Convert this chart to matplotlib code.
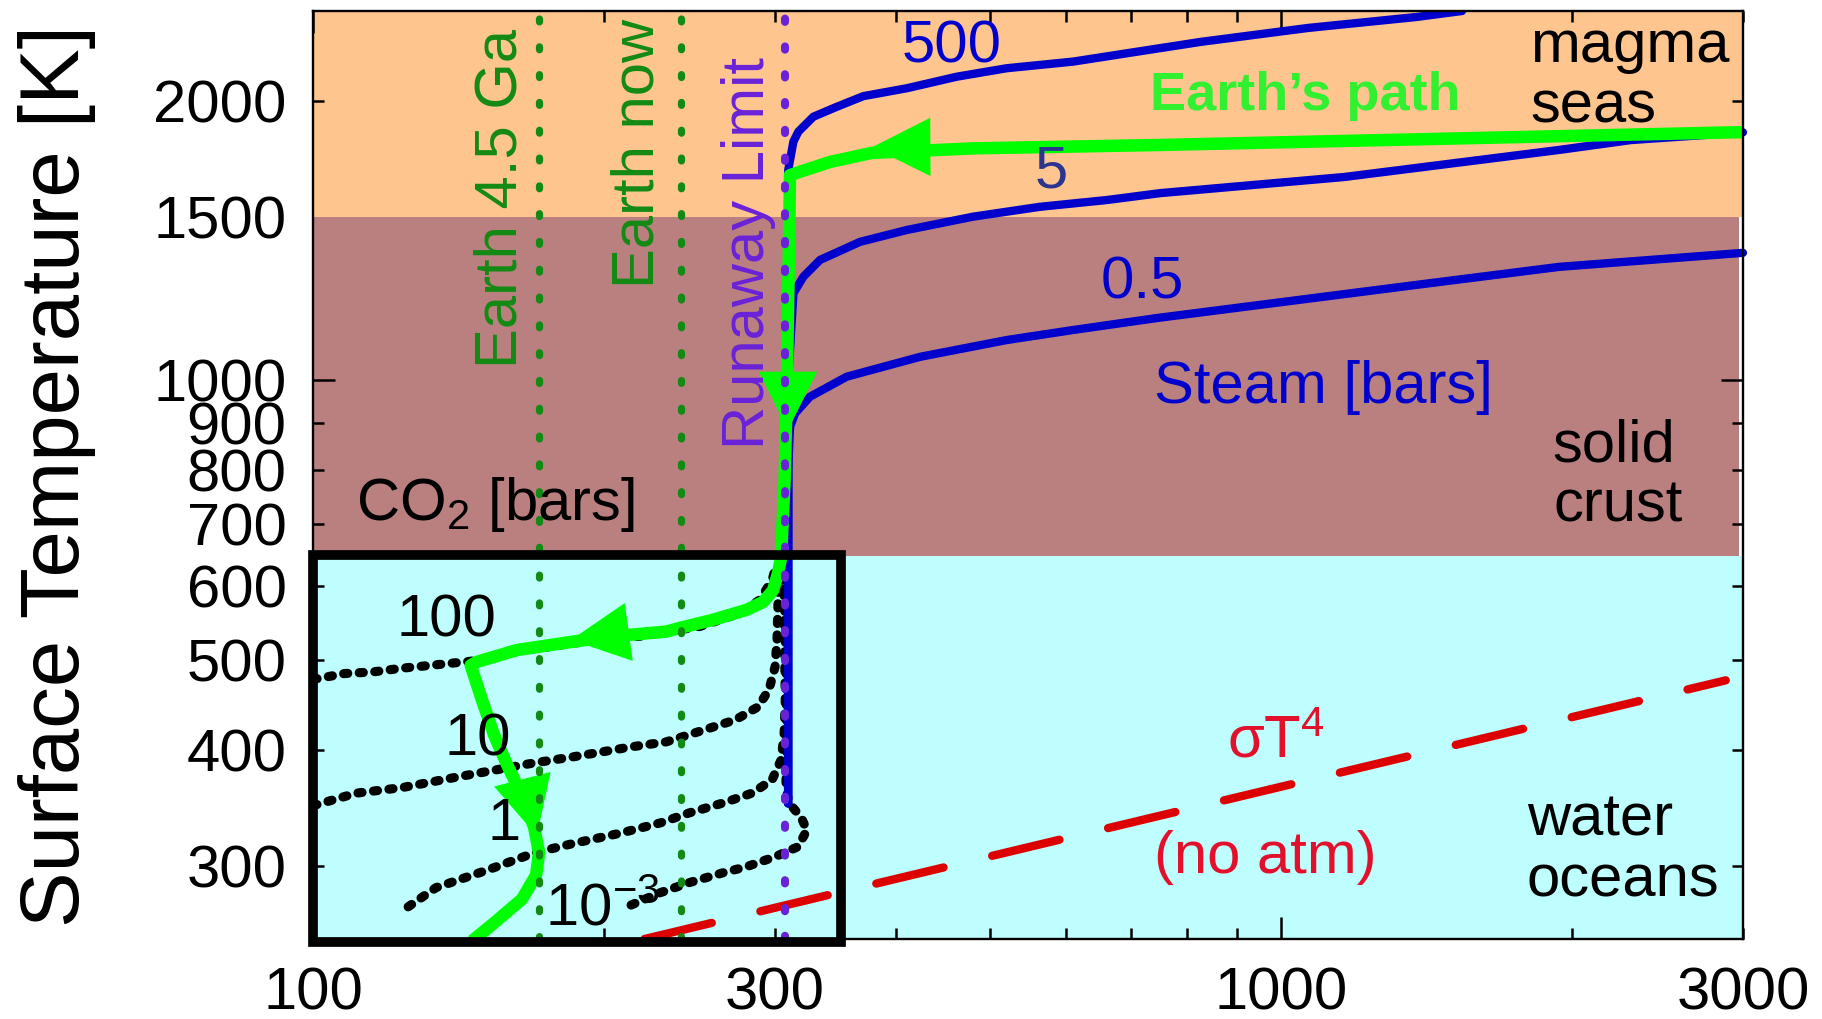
import matplotlib
matplotlib.use("Agg")
import matplotlib.pyplot as plt
from matplotlib.patches import Rectangle

plt.rcParams["font.family"] = ["Liberation Sans", "DejaVu Sans"]
plt.rcParams["mathtext.fontset"] = "custom"
plt.rcParams["mathtext.rm"] = "Liberation Sans"
plt.rcParams["mathtext.it"] = "Liberation Sans:italic"
plt.rcParams["mathtext.bf"] = "Liberation Sans:bold"

# ---------------- data: absorbed flux [W m^-2] vs surface temperature [K]
flux_limits = [100, 3000]
temp_limits = [250, 2500]

# surface regimes
magma_range = [1500, 2500]
crust_range = [647, 1500]
ocean_range = [250, 647]

# steam atmospheres (bars)
steam_500_flux = [309.6, 309.6, 309.7, 313.5, 317.2, 328.7, 347.5, 370.3, 410.6,
                  462.4, 520.6, 609.7, 696.6, 826.8, 1066, 1379, 1538]
steam_500_temp = [350, 1200, 1685, 1808, 1853, 1923, 1971, 2024, 2064,
                  2124, 2169, 2205, 2253, 2316, 2397, 2463, 2500]

steam_5_flux = [309.6, 309.6, 313.5, 321.0, 334.0, 367.4, 410.6, 481, 563.6,
                660.6, 750, 1162, 1937, 2299, 3000]
steam_5_temp = [350, 1000, 1241, 1293, 1348, 1410, 1452, 1501, 1538,
                1564, 1591, 1656, 1771, 1815, 1850]

steam_05_flux = [309.6, 309.6, 311, 314.7, 326.1, 355.9, 423.8, 520.6, 610.1,
                 744, 1379, 1937, 3000]
steam_05_temp = [350, 800, 891, 921, 960, 1009, 1060, 1105, 1133,
                 1167, 1267, 1325, 1372]

# CO2 atmospheres (bars)
co2_100_flux = [100, 107.7, 115.3, 123.5, 132.3, 145.5, 163.6, 186, 217.7,
                251, 276.1, 289.5, 298, 300.8]
co2_100_temp = [476, 483, 485, 489.5, 493, 498, 511, 521, 530,
                543, 561, 580, 609, 631]

co2_10_flux = [100, 110.8, 123.6, 141.5, 169.2, 186, 213.1, 231.6, 248.1,
               272.9, 288.1, 295.8, 300.1, 301.5, 302.3, 303]
co2_10_temp = [348, 359, 364, 374, 387, 393, 402.7, 407.7, 417,
               430.5, 444.6, 464, 491, 525, 580, 615]

co2_1_flux = [125.4, 134, 151.6, 169.2, 186, 207.5, 228.3, 244.6, 265.3,
              284.1, 298, 304.5, 306.7, 307.5, 307, 306]
co2_1_temp = [270.8, 284, 296.8, 309.5, 317, 325, 333.4, 341.8, 350.4,
              359, 371, 390, 417, 452, 520, 600]

co2_1e3_flux = [213.1, 228.3, 244.6, 265.3, 280.1, 300.1, 316.9, 323.8, 319.2,
                310.2, 308, 308.5, 308, 307, 305]
co2_1e3_temp = [272, 280.4, 287.5, 294.7, 299, 306.6, 314.3, 327.6, 338.3,
                350.4, 364, 420, 500, 580, 620]

# bare rock, no atmosphere
bare_flux = [220, 2880]
bare_temp = [250, 475]

# Earth's evolutionary path
path_flux = [3000, 750, 481, 377.7, 342.1, 311, 309.7, 308.6, 307, 305, 304.5,
             302.3, 298.7, 291.7, 280.8, 259, 239.4, 231.6, 205, 186, 162.3,
             147.5, 145.5, 149.5, 153.8, 158.7, 164.4, 169.2, 171.2, 170, 164.4,
             154.2, 146]
path_temp = [1851, 1793, 1778, 1758, 1719, 1664, 1241, 969, 781, 673, 645,
             620, 594, 577, 566, 552, 541, 536, 530, 523, 512,
             497, 493, 452, 415, 385, 357, 330, 309.5, 293, 276,
             260.7, 248.8]

# direction markers along the path: (tip, tail)
path_arrows = [((378, 1783), (422, 1784)),
               ((309.5, 884), (309.5, 969)),
               ((184.7, 525), (205, 533)),
               ((170.3, 323), (165.6, 362))]

# reference fluxes
earth_early_flux = 171
earth_now_flux = 240
runaway_flux = 307.5

# CO2 inset frame
co2_box_flux = [100, 351]
co2_box_temp = [248, 648]

# axis ticks
x_major = [100, 1000]
x_minor = [200, 300, 400, 500, 600, 700, 800, 900, 2000, 3000]
x_labeled = [100, 300, 1000, 3000]
y_major = [1000]
y_minor = [300, 400, 500, 600, 700, 800, 900, 2000]
y_labeled = [300, 400, 500, 600, 700, 800, 900, 1000, 2000]

# ---------------- colours
c_magma = "#FEC58F"
c_crust = "#BA8080"
c_ocean = "#BEFEFE"
c_steam = "#0000CC"
c_path = "#00FF00"
c_early = "#138A13"
c_runaway = "#6A22D8"
c_red = "#DD0000"
c_red_text = "#E2102A"

FS = 43

fig = plt.figure(figsize=(18.22, 10.19), dpi=100)
ax = fig.add_axes([0.1718, 0.0785, 0.7848, 0.9107])
ax.set_xscale("log")
ax.set_yscale("log")
ax.set_xlim(*flux_limits)
ax.set_ylim(*temp_limits)

# regime bands
ax.axhspan(*magma_range, color=c_magma, lw=0, zorder=0.5)
ax.axhspan(*crust_range, xmax=0.997, color=c_crust, lw=0, zorder=0.5)
ax.axhspan(*ocean_range, color=c_ocean, lw=0, zorder=0.5)

# no-atmosphere line
ax.plot(bare_flux, bare_temp, color=c_red, lw=6, linestyle=(0, (8.3, 6.0)),
        dash_capstyle="round", zorder=2)

# CO2 curves
for fx, ty in [(co2_100_flux, co2_100_temp), (co2_10_flux, co2_10_temp),
               (co2_1_flux, co2_1_temp), (co2_1e3_flux, co2_1e3_temp)]:
    ax.plot(fx, ty, color="black", lw=6.6, linestyle=(0, (0.45, 1.25)),
            dash_capstyle="round", zorder=3)

# steam curves
ax.plot(steam_500_flux, steam_500_temp, color=c_steam, lw=6,
        solid_capstyle="round", solid_joinstyle="round", zorder=3.5)
for fx, ty in [(steam_5_flux, steam_5_temp), (steam_05_flux, steam_05_temp)]:
    ax.plot(fx, ty, color=c_steam, lw=6, solid_capstyle="round",
            solid_joinstyle="round", clip_on=False, zorder=3.5)

# Earth's path
ax.plot(path_flux, path_temp, color=c_path, lw=9, solid_capstyle="butt",
        solid_joinstyle="round", zorder=4)
for tip, tail in path_arrows:
    ax.annotate("", xy=tip, xytext=tail, zorder=4.1,
                arrowprops=dict(arrowstyle="-|>,head_length=1.5,head_width=0.75",
                                mutation_scale=28, lw=0, color=c_path,
                                shrinkA=0, shrinkB=0))

# reference flux lines
for fx, col in [(earth_early_flux, c_early), (earth_now_flux, c_early)]:
    ax.plot([fx, fx], temp_limits, color=col, lw=5.2, linestyle=(0, (0.4, 3.45)),
            dash_capstyle="round", zorder=4.5)
ax.plot([runaway_flux, runaway_flux], temp_limits, color=c_runaway, lw=5.8,
        linestyle=(0, (0.4, 3.05)), dash_capstyle="round", zorder=5)

# CO2 inset frame
ax.add_patch(Rectangle((co2_box_flux[0], co2_box_temp[0]),
                       co2_box_flux[1] - co2_box_flux[0],
                       co2_box_temp[1] - co2_box_temp[0],
                       fill=False, ec="black", lw=7, clip_on=False, zorder=6,
                       joinstyle="miter"))

# ---------------- labels
txt = dict(fontsize=FS, va="baseline", zorder=7)
ax.text(1808, 2203, "magma", ha="left", **txt)
ax.text(1808, 1898, "seas", ha="left", **txt)
ax.text(1905, 816.5, "solid", ha="left", **txt)
ax.text(1914, 705, "crust", ha="left", **txt)
ax.text(1795, 323.6, "water", ha="left", **txt)
ax.text(1795, 277.9, "oceans", ha="left", **txt)

ax.text(879.6, 391.7, r"σT$^4$", ha="left", color=c_red_text, **txt)
ax.text(962.8, 294.7, "(no atm)", ha="center", color=c_red_text, **txt)

ax.text(1105, 945, "Steam [bars]", ha="center", color=c_steam, **txt)
ax.text(457.2, 2198, "500", ha="center", color=c_steam, **txt)
ax.text(578.6, 1612, "5", ha="center", color="#2B3590", **txt)
ax.text(718.6, 1226, "0.5", ha="center", color=c_steam, **txt)
ax.text(1059, 1956, "Earth’s path", ha="center", color="#30F030",
        fontsize=39, fontweight="bold", va="baseline", zorder=7)

ax.text(110.8, 707, r"CO$_2$ [bars]", ha="left", **txt)
ax.text(137.3, 530, "100", ha="center", **txt)
ax.text(148.1, 394, "10", ha="center", **txt)
ax.text(157.5, 319.7, "1", ha="center", **txt)
ax.text(173.7, 258.8, r"10$^{-3}$", ha="left", **txt)

rot = dict(fontsize=FS, rotation=90, rotation_mode="anchor", ha="center",
           va="baseline", zorder=7)
ax.text(162.1, 1570, "Earth 4.5 Ga", color=c_early, **rot)
ax.text(225, 1754, "Earth now", color=c_early, **rot)
ax.text(292.4, 1373, "Runaway Limit", color=c_runaway, **rot)

# ---------------- axes styling
ax.set_xticks(x_major, [str(v) if v in x_labeled else "" for v in x_major])
ax.set_xticks(x_minor, [str(v) if v in x_labeled else "" for v in x_minor],
              minor=True)
ax.set_yticks(y_major, [str(v) if v in y_labeled else "" for v in y_major])
ax.set_yticks(y_minor, [str(v) if v in y_labeled else "" for v in y_minor],
              minor=True)
ax.tick_params(which="both", direction="in", top=True, right=True,
               labelsize=FS, width=1.8)
ax.tick_params(which="major", length=15.8)
ax.tick_params(which="minor", length=8)
ax.tick_params(axis="x", which="both", pad=20)
ax.tick_params(axis="y", which="both", pad=19)
ax.annotate("1500", xy=(0, 1500), xycoords=("axes fraction", "data"),
            xytext=(-19, 0), textcoords="offset points", ha="right",
            va="center_baseline", fontsize=FS)
for s in ax.spines.values():
    s.set_linewidth(1.7)
    s.set_zorder(5.5)

fig.text(0.0313, 0.5324, "Surface Temperature [K]", rotation=90,
         ha="center", va="center", fontsize=60)

fig.savefig("out.png", dpi=100)
